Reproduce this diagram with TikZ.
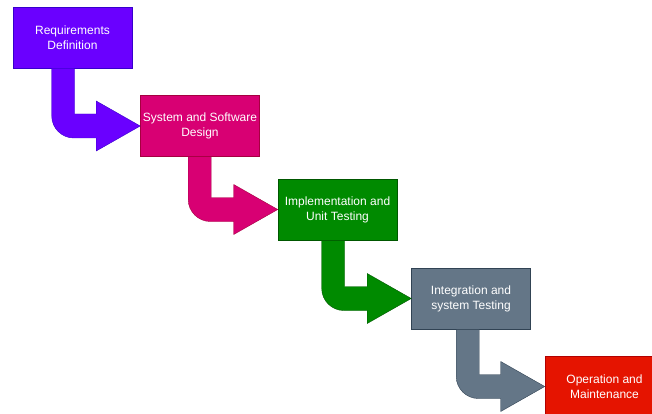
\documentclass[tikz,border=0pt]{standalone}
\usepackage{fontspec}
\setmainfont{Liberation Sans}
\usepackage{tikz}
\usetikzlibrary{calc}

\definecolor{reqfill}{HTML}{6A00FF}  \definecolor{reqline}{HTML}{3700CC}
\definecolor{desfill}{HTML}{D80073}  \definecolor{desline}{HTML}{A50040}
\definecolor{impfill}{HTML}{008A00}  \definecolor{impline}{HTML}{005700}
\definecolor{intfill}{HTML}{647687}  \definecolor{intline}{HTML}{314354}
\definecolor{opfill}{HTML}{E51400}   \definecolor{opline}{HTML}{B20000}

% bent arrow: #1 from box, #2 to box, #3 colour name, #4 shaft offset
\newcommand\phasearrow[4]{%
  \filldraw[fill=#3fill, draw=#3line, line width=0.4pt]
    let \p1=(#1.south west), \p2=(#2.west) in
    ({\x1+#4},\y1) -- ({\x1+#4+23pt},\y1) -- ({\x1+#4+23pt},{\y2+12pt})
    -- ({\x2-44pt},{\y2+12pt}) -- ({\x2-44pt},{\y2+25pt}) -- (\x2,\y2)
    -- ({\x2-44pt},{\y2-25pt}) -- ({\x2-44pt},{\y2-12pt})
    -- ({\x1+#4+22pt},{\y2-12pt})
    .. controls ({\x1+#4+10pt},{\y2-12pt}) and ({\x1+#4},{\y2-2pt}) .. ({\x1+#4},{\y2+10pt})
    -- cycle;}

\begin{document}
\begin{tikzpicture}[x=1pt, y=-1pt,
        phase/.style={draw, line width=0.6pt, minimum width=119pt, minimum height=61pt,
          inner sep=0pt, align=center, text=white, font=\fontsize{12}{15}\selectfont}]

        \fill[white] (0,0) rectangle (652,414);
        \useasboundingbox (0,0) rectangle (652,414);
        \clip (0,0) rectangle (652,414);

        \node at (72.5,37.5) [phase,fill=reqfill,draw=reqline] (req) {Requirements\\Definition};
        \node at (200,126) [phase,fill=desfill,draw=desline] (des) {System and Software\\Design};
        \node at (337.5,209.5) [phase,fill=impfill,draw=impline] (imp) {Implementation and\\Unit Testing};
        \node at (471,298.5) [phase,fill=intfill,draw=intline] (int) {Integration and\\system Testing};
        \node at (604.5,386.5) [phase,fill=opfill,draw=opline] (op) {Operation and\\Maintenance};

        \phasearrow{req}{des}{req}{39pt}
        \phasearrow{des}{imp}{des}{48pt}
        \phasearrow{imp}{int}{imp}{44pt}
        \phasearrow{int}{op}{int}{45pt}

      \end{tikzpicture}
\end{document}
